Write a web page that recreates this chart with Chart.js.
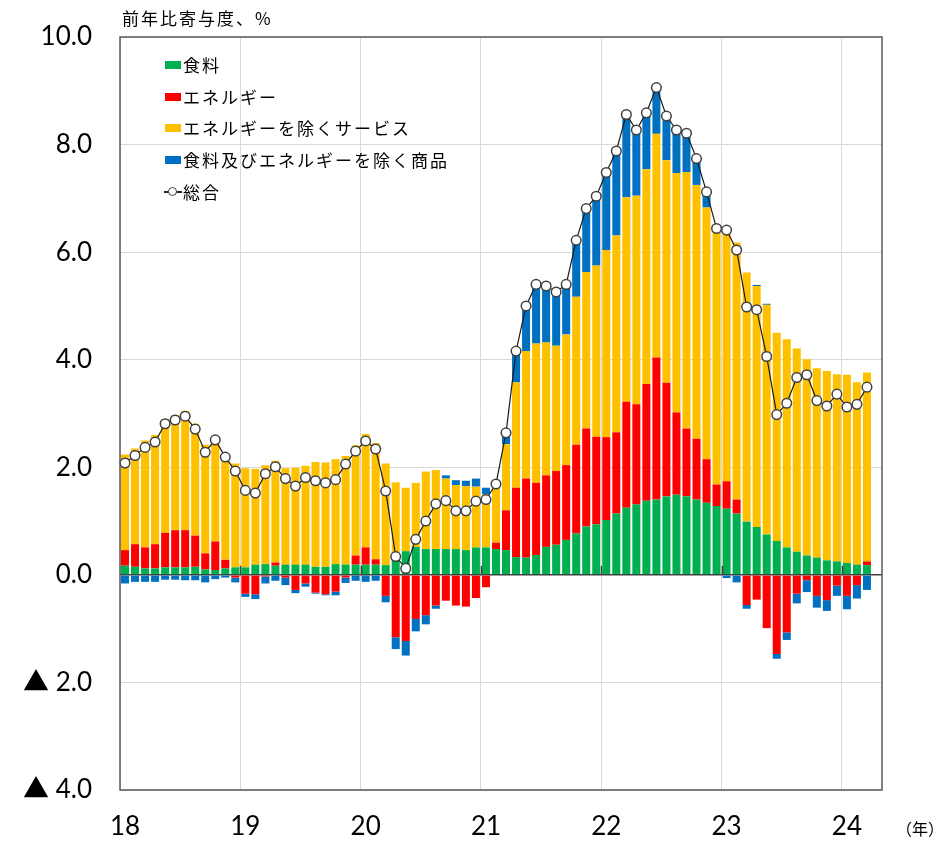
<!DOCTYPE html>
<html>
<head>
<meta charset="utf-8">
<script src="https://cdn.jsdelivr.net/npm/chart.js@4.4.1/dist/chart.umd.min.js"></script>
<style>
  html, body { margin: 0; padding: 0; background: #fff; }
  #wrap { position: relative; width: 949px; height: 850px; }
  #chart { position: absolute; left: 0; top: 0; }
  .jp { position: absolute; font-family: "Noto Sans CJK JP", sans-serif; color: #000; white-space: nowrap; font-size: 17px; line-height: 24px; letter-spacing: 2px; }
  .sw { position: absolute; width: 16px; height: 8px; }
</style>
</head>
<body>
<div id="wrap">
  <canvas id="chart" width="949" height="850"></canvas>
  <div class="jp" style="left:122px;top:6px;">前年比寄与度、%</div>

  <div class="sw" style="left:165px;top:61px;background:#00b050"></div>
  <div class="jp" style="left:183px;top:53px;">食料</div>
  <div class="sw" style="left:165px;top:93px;background:#ff0000"></div>
  <div class="jp" style="left:183px;top:85px;">エネルギー</div>
  <div class="sw" style="left:165px;top:124px;background:#ffc000"></div>
  <div class="jp" style="left:183px;top:116px;">エネルギーを除くサービス</div>
  <div class="sw" style="left:165px;top:156px;background:#0070c0"></div>
  <div class="jp" style="left:183px;top:148px;">食料及びエネルギーを除く商品</div>
  <div style="position:absolute;left:164px;top:191px;width:18px;height:1.5px;background:#262626"></div>
  <div style="position:absolute;left:168px;top:187px;width:7px;height:7px;border:1.5px solid #404040;border-radius:50%;background:#fff"></div>
  <div class="jp" style="left:183px;top:180px;">総合</div>

  <div class="jp" style="left:896px;top:816px;font-size:16px;letter-spacing:0;">（年）</div>
</div>
<script>
// 2018/01 - 2024/03, monthly contributions (%pt)
const years = ['18', '19', '20', '21', '22', '23', '24'];
const months = years.flatMap(y => Array.from({ length: 12 }, (_, m) => y + '/' + (m + 1))).slice(0, 76);

const food = [
  .17, .15, .12, .12, .14, .14, .14, .15, .10, .09, .12, .14,
  .14, .19, .20, .17, .19, .19, .19, .15, .15, .20, .19, .19,
  .19, .19, .18, .33, .44, .52, .48, .48, .48, .48, .46, .51,
  .51, .48, .46, .33, .32, .37, .52, .56, .65, .77, .90, .94,
  1.02, 1.14, 1.25, 1.31, 1.38, 1.40, 1.46, 1.49, 1.46, 1.40, 1.34, 1.28,
  1.23, 1.14, .99, .89, .75, .63, .51, .43, .36, .32, .27, .25,
  .22, .19, .18
];
const energy = [
  .29, .42, .39, .45, .64, .69, .69, .58, .30, .53, .16, -.05,
  -.35, -.36, -.03, .06, -.05, -.28, -.16, -.33, -.36, -.31, -.05, .17,
  .32, .10, -.39, -1.16, -1.23, -.82, -.75, -.57, -.48, -.57, -.59, -.43,
  -.23, .12, .74, 1.29, 1.47, 1.34, 1.33, 1.37, 1.39, 1.65, 1.82, 1.63,
  1.54, 1.51, 1.97, 1.86, 2.17, 2.64, 2.11, 1.53, 1.26, 1.13, .81, .40,
  .51, .26, -.56, -.46, -.99, -1.47, -1.07, -.35, -.10, -.39, -.47, -.20,
  -.39, -.19, .07
];
const services = [
  1.78, 1.78, 1.99, 2.03, 2.12, 2.14, 2.22, 2.08, 2.02, 1.97, 1.96, 1.93,
  1.84, 1.78, 1.84, 1.89, 1.79, 1.80, 1.84, 1.95, 1.94, 1.95, 2.02, 2.05,
  2.11, 2.16, 1.89, 1.39, 1.18, 1.19, 1.44, 1.47, 1.31, 1.19, 1.19, 1.13,
  .99, 1.05, 1.23, 1.96, 2.37, 2.59, 2.47, 2.33, 2.43, 2.75, 2.91, 3.18,
  3.48, 3.66, 3.80, 3.88, 3.99, 4.16, 4.14, 4.45, 4.77, 4.72, 4.68, 4.75,
  4.73, 4.78, 4.63, 4.48, 4.27, 3.87, 3.87, 3.78, 3.65, 3.52, 3.52, 3.48,
  3.50, 3.39, 3.51
];
const goods = [
  -.16, -.13, -.13, -.13, -.09, -.09, -.10, -.10, -.14, -.08, -.05, -.09,
  -.06, -.09, -.13, -.11, -.14, -.06, -.06, -.02, -.02, -.07, -.10, -.11,
  -.13, -.11, -.12, -.22, -.27, -.23, -.17, -.06, .06, .09, .10, .15,
  .12, .04, .17, .58, .79, 1.10, 1.05, 1.00, .93, 1.05, 1.18, 1.29,
  1.44, 1.57, 1.54, 1.22, 1.05, .86, .82, .80, .72, .49, .29, .01,
  -.06, -.14, -.07, .02, .02, -.09, -.14, -.18, -.22, -.22, -.20, -.19,
  -.25, -.25, -.28
];
const total = [
  2.08, 2.22, 2.37, 2.47, 2.81, 2.88, 2.95, 2.71, 2.28, 2.51, 2.19, 1.93,
  1.57, 1.52, 1.88, 2.01, 1.79, 1.65, 1.81, 1.75, 1.71, 1.77, 2.06, 2.30,
  2.49, 2.34, 1.56, 0.34, 0.12, 0.66, 1.00, 1.32, 1.38, 1.19, 1.19, 1.37,
  1.40, 1.69, 2.64, 4.16, 5.00, 5.40, 5.37, 5.26, 5.40, 6.22, 6.81, 7.04,
  7.48, 7.88, 8.56, 8.27, 8.59, 9.06, 8.53, 8.27, 8.21, 7.74, 7.12, 6.44,
  6.41, 6.04, 4.98, 4.93, 4.06, 2.98, 3.19, 3.67, 3.72, 3.24, 3.14, 3.36,
  3.12, 3.17, 3.49
];

function bar(label, data, color) {
  return {
    type: 'bar', label, data, backgroundColor: color,
    barPercentage: 0.8, categoryPercentage: 1.0, stack: 'bars', order: 1
  };
}

// frame + small ticks on the zero line at each year
const framePlugin = {
  id: 'frame',
  afterDraw(chart) {
    const { ctx, chartArea: a, scales: { x, y } } = chart;
    ctx.save();
    const y0 = y.getPixelForValue(0);
    const half = (x.getPixelForValue(1) - x.getPixelForValue(0)) / 2;
    ctx.strokeStyle = '#404040';
    ctx.lineWidth = 1.5;
    for (let i = 12; i < months.length; i += 12) {
      const px = Math.round(x.getPixelForValue(i) - half) + 0.5;
      ctx.beginPath();
      ctx.moveTo(px, y0);
      ctx.lineTo(px, y0 - 9);
      ctx.stroke();
    }
    ctx.strokeStyle = '#595959';
    ctx.lineWidth = 1.5;
    ctx.strokeRect(a.left, a.top, a.right - a.left, a.bottom - a.top);
    ctx.restore();
  }
};

new Chart(document.getElementById('chart').getContext('2d'), {
  data: {
    labels: months,
    datasets: [
      {
        type: 'line', label: '総合', data: total,
        borderColor: '#1a1a1a', borderWidth: 1.2, tension: 0,
        pointRadius: 4.8, pointBackgroundColor: '#fff',
        pointBorderColor: '#404040', pointBorderWidth: 1.5,
        stack: 'line', order: 0
      },
      bar('食料', food, '#00b050'),
      bar('エネルギー', energy, '#ff0000'),
      bar('エネルギーを除くサービス', services, '#ffc000'),
      bar('食料及びエネルギーを除く商品', goods, '#0070c0')
    ]
  },
  options: {
    responsive: false,
    animation: false,
    layout: { padding: { left: 10, right: 67, top: 37, bottom: 0 } },
    plugins: {
      legend: { display: false },
      tooltip: { enabled: false }
    },
    scales: {
      x: {
        stacked: true,
        ticks: {
          autoSkip: false, maxRotation: 0, minRotation: 0,
          callback: (v, i) => i % 12 === 0 ? months[i].slice(0, 2) : '',
          font: { family: 'Lato', size: 26 }, color: '#000', padding: 21
        },
        grid: {
          offset: true, drawTicks: false,
          color: c => (c.index !== undefined && c.index % 12 === 0) ? '#d9d9d9' : 'rgba(0,0,0,0)'
        },
        border: { display: false },
        afterFit: s => { s.height = 60; s.paddingLeft = 0; s.paddingRight = 0; }
      },
      y: {
        stacked: true, min: -4, max: 10,
        ticks: {
          stepSize: 2,
          callback: v => v < 0 ? '▲ ' + (-v).toFixed(1) : v.toFixed(1),
          font: { family: "Lato, 'Noto Sans CJK JP'", size: 26 }, color: '#000', padding: 28
        },
        grid: {
          drawTicks: false,
          color: c => (c.tick && c.tick.value === 0) ? '#404040' : '#d9d9d9',
          lineWidth: c => (c.tick && c.tick.value === 0) ? 1.5 : 1
        },
        border: { display: false },
        afterFit: s => { s.width = 110; s.paddingTop = 0; s.paddingBottom = 0; }
      }
    }
  },
  plugins: [framePlugin]
});
</script>
</body>
</html>
